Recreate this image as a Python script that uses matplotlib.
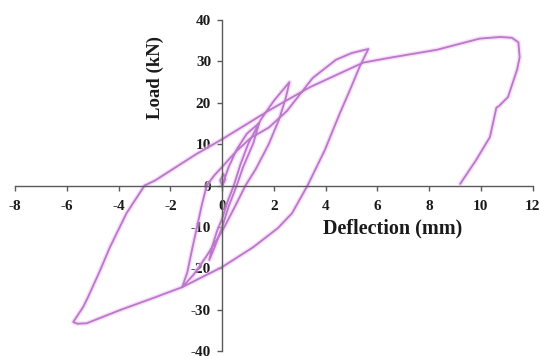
import numpy as np
import matplotlib
matplotlib.use("Agg")
import matplotlib.pyplot as plt

# Load-deflection record, split by loading cycle (mm, kN)
cycle1_defl = [0.0, 0.12, 0.05, -0.08, 0.0, 0.25, 0.57]
cycle1_load = [0.0, 1.5, 2.8, 1.2, 0.0, 4.5, 8.8]

cycle2_defl = [0.57, 0.95, 1.43, 1.2, 0.81, 0.56, 0.25, 0.0, -0.3, -0.5]
cycle2_load = [8.8, 12.5, 15.1, 10.2, 4.5, 0.0, -5.0, -10.0, -15.0, -18.0]

cycle3_defl = [-0.5, -0.4, -0.2, 0.0, 0.2, 0.45, 0.7, 1.0, 1.5, 2.0, 2.6,
               2.45, 2.2, 1.8, 1.3, 0.9, 0.5, 0.0, -0.6, -1.1, -1.55]
cycle3_load = [-18.0, -15.0, -11.0, -8.0, -4.0, 0.0, 5.0, 10.0, 16.0, 20.5, 25.0,
               21.0, 16.0, 10.0, 4.0, 0.0, -5.0, -11.0, -17.0, -21.5, -24.6]

cycle4_defl = [-1.55, -1.35, -1.15, -1.0, -0.8, -0.6, -0.3, 0.0, 0.5, 1.1, 1.8,
               2.5, 3.0, 3.5, 4.4, 5.0, 5.65,
               5.32, 4.94, 4.55, 3.97, 3.3, 2.7, 2.15, 1.2, 0.0, -1.56, -2.67,
               -3.95, -5.24, -5.6, -5.76, -5.38, -5.19, -4.72, -4.34, -3.7, -3.0]
cycle4_load = [-24.6, -21.0, -15.0, -10.8, -5.0, 0.0, 2.5, 4.5, 8.0, 11.5, 14.0,
               18.0, 22.0, 26.0, 30.4, 32.0, 33.0,
               28.8, 23.1, 17.5, 8.6, 0.0, -6.7, -10.3, -14.9, -19.7, -24.6, -27.2,
               -30.1, -33.3, -33.4, -33.0, -29.4, -27.0, -20.5, -14.9, -6.7, 0.0]

cycle5_defl = [-3.0, -2.6, -1.0, 0.0, 1.85, 3.4, 5.45, 6.5, 8.3, 9.95, 10.75,
               11.2, 11.45, 11.5, 11.4, 11.05, 10.7, 10.6, 10.35, 9.8, 9.2]
cycle5_load = [0.0, 1.2, 7.6, 11.2, 18.3, 23.8, 29.7, 30.9, 32.8, 35.5, 35.9,
               35.7, 34.6, 31.0, 28.0, 21.4, 19.2, 18.8, 11.7, 6.0, 0.4]

x_ticks = [-8, -6, -4, -2, 0, 2, 4, 6, 8, 10, 12]
y_ticks = [-40, -30, -20, -10, 0, 10, 20, 30, 40]

defl = np.concatenate([cycle1_defl, cycle2_defl, cycle3_defl, cycle4_defl, cycle5_defl])
load = np.concatenate([cycle1_load, cycle2_load, cycle3_load, cycle4_load, cycle5_load])

plt.rcParams["font.family"] = ["Liberation Serif", "DejaVu Serif"]
plt.rcParams["font.weight"] = "bold"

fig = plt.figure(figsize=(5.4, 3.56), dpi=100)
ax = fig.add_axes([0.0283, 0.014, 0.958, 0.9298])

# soft halo under the curve, then the curve itself
ax.plot(defl, load, color="#F4C0F7", lw=3.4, alpha=0.5, solid_joinstyle="round",
        solid_capstyle="round")
ax.plot(defl, load, color="#BA7ACB", lw=1.35, solid_joinstyle="round",
        solid_capstyle="round")

ax.set_xlim(-8, 12)
ax.set_ylim(-40, 40)
ax.set_xticks(x_ticks)
ax.set_yticks(y_ticks)
ax.set_xticklabels([str(t) for t in x_ticks])
ax.set_yticklabels([str(t) for t in y_ticks])

for side in ("top", "right"):
    ax.spines[side].set_visible(False)
ax.spines["left"].set_position(("data", 0))
ax.spines["bottom"].set_position(("data", 0))
for side in ("left", "bottom"):
    ax.spines[side].set_color("#5a5a5a")
    ax.spines[side].set_linewidth(1.0)

ax.tick_params(axis="both", direction="out", length=3.5, width=1.0, color="#5a5a5a",
               labelsize=11, labelcolor="#1a1a1a")
ax.tick_params(axis="x", pad=7)
ax.tick_params(axis="y", pad=4.5)
for lab in ax.get_xticklabels() + ax.get_yticklabels():
    lab.set_fontweight("bold")

ax.text(-2.6, 26, "Load (kN)", rotation=90, ha="center", va="center",
        fontsize=13.5, fontweight="bold", color="#1a1a1a")
ax.text(6.6, -10.3, "Deflection (mm)", ha="center", va="center",
        fontsize=14.5, fontweight="bold", color="#1a1a1a")

fig.savefig("out.png", dpi=100, facecolor="white")
